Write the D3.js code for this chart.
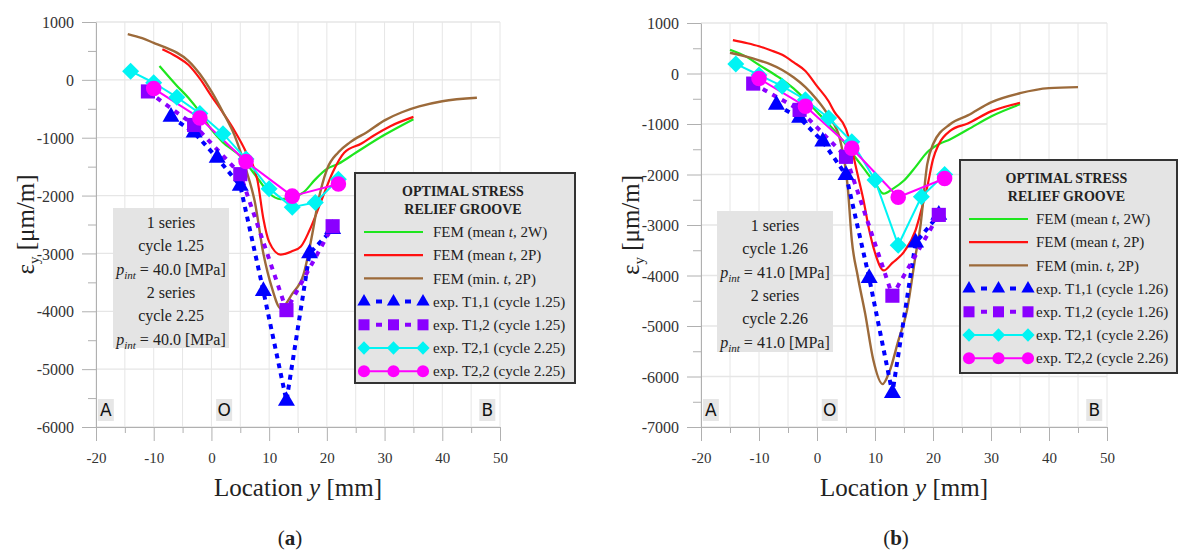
<!DOCTYPE html>
<html>
<head>
<meta charset="utf-8">
<script src="https://cdn.jsdelivr.net/npm/d3@7"></script>
<style>
  body { margin: 0; background: #fff; }
  svg { display: block; font-family: "Liberation Serif", "Times New Roman", serif; }
  .tick text { font-family: "Liberation Serif", "Times New Roman", serif; }
</style>
</head>
<body>
<svg id="chart" width="1179" height="550"></svg>
<script>
// ---------------- data ----------------
const xTicks = [-20, -10, 0, 10, 20, 30, 40, 50];
const xMinor = [-15, -5, 5, 15, 25, 35, 45];
const yTicksA = [1000, 0, -1000, -2000, -3000, -4000, -5000, -6000];
const yTicksB = [1000, 0, -1000, -2000, -3000, -4000, -5000, -6000, -7000];

const legendLabelsA = ['FEM (mean |t|, 2W)', 'FEM (mean |t|, 2P)', 'FEM (min. |t|, 2P)',
  'exp. T1,1 (cycle 1.25)', 'exp. T1,2 (cycle 1.25)', 'exp. T2,1 (cycle 2.25)', 'exp. T2,2 (cycle 2.25)'];
const legendLabelsB = ['FEM (mean |t|, 2W)', 'FEM (mean |t|, 2P)', 'FEM (min. |t|, 2P)',
  'exp. T1,1 (cycle 1.26)', 'exp. T1,2 (cycle 1.26)', 'exp. T2,1 (cycle 2.26)', 'exp. T2,2 (cycle 2.26)'];
const infoA = ['1 series', 'cycle 1.25', '40.0', '2 series', 'cycle 2.25', '40.0'];
const infoB = ['1 series', 'cycle 1.26', '41.0', '2 series', 'cycle 2.26', '41.0'];
const markLabels = [['A', -18.3], ['O', 2.2], ['B', 47.8]];

// (a) FEM curves  [y mm, strain µm/m]
const femMean2W_a = [[-9,240],[-6,-100],[-4,-310],[-2,-560],[0,-860],[2,-1080],[5,-1320],[8,-1700],[10,-1960],
  [12,-2060],[14,-2040],[16,-1940],[18,-1720],[20,-1540],[22,-1450],[25,-1260],[30,-950],[35,-680]];
const femMean2P_a = [[-8.5,530],[-6,400],[-4,260],[-2,20],[0,-280],[2,-570],[4,-880],[6,-1250],[8,-1750],[9,-2400],
  [10,-2800],[12,-3020],[14,-2960],[15.5,-2880],[17,-2600],[19,-2100],[21,-1600],[23,-1260],[26,-1100],[28,-970],[31,-800],[35,-640]];
const femMin2P_a = [[-14.5,790],[-12,720],[-10,640],[-8,560],[-6,470],[-4,330],[-2,100],[0,-200],[2,-560],[4,-960],
  [6,-1550],[7.5,-2100],[9,-3000],[10.5,-3600],[12,-3950],[14,-3700],[16,-3350],[17.5,-2650],[18.5,-2100],[20,-1550],
  [22,-1250],[24,-1080],[27,-900],[30,-700],[33,-560],[36,-460],[40,-370],[46,-310]];
// (a) measurements
const expT11_a = [[-7,-640],[-3,-910],[1,-1350],[5,-1830],[9,-3650],[13,-5550],[17,-3000],[21,-2580]];
const expT12_a = [[-11,-200],[-3,-780],[5,-1630],[13,-3980],[21,-2530]];
const expT21_a = [[-14,150],[-10,-50],[-6,-300],[-2,-580],[2,-930],[6,-1370],[10,-1880],[14,-2200],[18,-2120],[22,-1720]];
const expT22_a = [[-10,-150],[-2,-660],[6,-1410],[14,-2010],[22,-1800]];

// (b) FEM curves
const femMean2W_b = [[-15,470],[-12,320],[-10,170],[-8,30],[-6,-120],[-4,-300],[-2,-520],[0,-760],[2,-1000],[4,-1260],
  [6,-1570],[8,-1870],[10,-2170],[11.5,-2380],[13,-2290],[15,-2120],[17,-1850],[19,-1560],[21,-1400],[23,-1300],
  [26,-1110],[30,-850],[35,-610]];
const femMean2P_b = [[-14.5,660],[-12,600],[-10,540],[-8,460],[-6,370],[-4,220],[-2,50],[0,-250],[2,-550],[3,-760],
  [5,-1100],[6,-1500],[7,-2000],[8,-2500],[9,-3100],[10,-3550],[11.5,-3900],[13,-3750],[15,-3530],[17,-3100],[18,-2700],
  [19,-2250],[20,-1700],[21,-1400],[23,-1130],[26,-990],[30,-750],[35,-580]];
const femMin2P_b = [[-15,410],[-12,330],[-10,260],[-8,180],[-6,70],[-4,-80],[-2,-270],[0,-520],[2,-840],[4,-1320],
  [5.3,-2250],[6,-3300],[7,-4000],[8.3,-4750],[9.7,-5670],[11.3,-6150],[12.5,-5900],[14,-5300],[15.5,-4700],[17,-3600],
  [17.8,-3050],[19,-1800],[20,-1400],[23,-1000],[26,-830],[30,-570],[35,-390],[40,-290],[45,-270]];
// (b) measurements
const expT11_b = [[-7,-620],[-3,-880],[1,-1350],[5,-2010],[9,-4050],[13,-6330],[17,-3350],[21,-2800]];
const expT12_b = [[-11,-200],[-3,-720],[5,-1650],[13,-4400],[21,-2800]];
const expT21_b = [[-14,190],[-10,-30],[-6,-250],[-2,-520],[2,-880],[6,-1350],[10,-2110],[14,-3400],[18,-2440],[22,-2000]];
const expT22_b = [[-10,-100],[-2,-650],[6,-1480],[14,-2450],[22,-2080]];

// ---------------- styles ----------------
const styles = [
  { color: '#1ee61e', width: 2.2 },
  { color: '#ff1010', width: 2.2 },
  { color: '#9c6a3a', width: 2.4 },
  { color: '#0000ff', width: 4, dash: '5,5', marker: 'triangle' },
  { color: '#8a00ff', width: 4, dash: '5,6', marker: 'square' },
  { color: '#00f4f4', width: 2, marker: 'diamond' },
  { color: '#ff00ff', width: 2, marker: 'circle' }
];

const svg = d3.select('#chart');
const GRID = '#e6e6e6', AXIS = '#b0b0b0';

function markerPath(type) {
  if (type === 'triangle') return d3.symbol(d3.symbolTriangle, 125)();
  if (type === 'square') return d3.symbol(d3.symbolSquare, 200)();
  if (type === 'diamond') return 'M0,-8.5L8.5,0L0,8.5L-8.5,0Z';
  return d3.symbol(d3.symbolCircle, 190)();
}

// '|t|' marks an italic part
function richText(sel, str) {
  str.split('|').forEach((p, i) => {
    sel.append('tspan').style('font-style', i % 2 ? 'italic' : 'normal').text(p);
  });
}

function pint(sel, val) {
  sel.append('tspan').style('font-style', 'italic').text('p');
  sel.append('tspan').style('font-style', 'italic').attr('font-size', 11).attr('dy', 4).text('int');
  sel.append('tspan').attr('dy', -4).text(' = ' + val + ' [MPa]');
}

function drawPanel(cfg) {
  const g = svg.append('g');
  const x = d3.scaleLinear().domain([-20, 50]).range([cfg.left, cfg.right]);
  const y = d3.scaleLinear().domain([cfg.yTicks[cfg.yTicks.length - 1], 1000]).range([cfg.bottom, cfg.top]);
  const yMinor = cfg.yTicks.slice(1).map(v => v + 500);

  // grid
  g.append('g').selectAll('line').data(xTicks.concat(xMinor)).join('line')
    .attr('x1', d => x(d)).attr('x2', d => x(d))
    .attr('y1', cfg.top).attr('y2', cfg.bottom)
    .attr('stroke', GRID).attr('stroke-width', 1);
  g.append('g').selectAll('line').data(cfg.yTicks).join('line')
    .attr('x1', cfg.left).attr('x2', cfg.right)
    .attr('y1', d => y(d)).attr('y2', d => y(d))
    .attr('stroke', GRID).attr('stroke-width', 1.3);

  // axes
  const fmt = d => String(d);
  const xa = g.append('g').attr('transform', `translate(0,${cfg.bottom})`)
    .call(d3.axisBottom(x).tickValues(xTicks).tickSize(14).tickSizeOuter(0).tickFormat(fmt));
  g.append('g').attr('transform', `translate(0,${cfg.bottom})`)
    .call(d3.axisBottom(x).tickValues(xMinor).tickSize(6).tickFormat(''))
    .select('.domain').remove();
  const ya = g.append('g').attr('transform', `translate(${cfg.left},0)`)
    .call(d3.axisLeft(y).tickValues(cfg.yTicks).tickSize(14).tickSizeOuter(0).tickFormat(fmt));
  g.append('g').attr('transform', `translate(${cfg.left},0)`)
    .call(d3.axisLeft(y).tickValues(yMinor).tickSize(8).tickFormat(''))
    .select('.domain').remove();
  g.selectAll('.domain, .tick line').attr('stroke', AXIS);
  g.selectAll('.tick text').style('font-family', '"Liberation Serif", serif').attr('fill', '#333');
  xa.selectAll('text').attr('y', 31).attr('dy', '0.35em').attr('font-size', 15);
  ya.selectAll('text').attr('x', -22).attr('dy', '0.35em').attr('font-size', 16);

  // axis titles
  const cx = (cfg.left + cfg.right) / 2, cy = (cfg.top + cfg.bottom) / 2;
  const xt = g.append('text').attr('x', cx).attr('y', 496)
    .attr('text-anchor', 'middle').attr('font-size', 25).attr('fill', '#222');
  richText(xt, 'Location |y| [mm]');
  const yt = g.append('text').attr('transform', `translate(${cfg.left - 62},${cy}) rotate(-90)`)
    .attr('text-anchor', 'middle').attr('font-size', 25).attr('fill', '#222');
  yt.append('tspan').text('ε');
  yt.append('tspan').attr('font-size', 15).attr('dy', 5).text('y');
  yt.append('tspan').attr('dy', -5).text(' [μm/m]');

  const cap = g.append('text').attr('x', cx - 8).attr('y', 545)
    .attr('text-anchor', 'middle').attr('font-size', 21).attr('fill', '#222');
  cap.append('tspan').text('(');
  cap.append('tspan').attr('font-weight', 'bold').text(cfg.tag);
  cap.append('tspan').text(')');

  // A / O / B marks
  markLabels.forEach(([t, v]) => {
    const mg = g.append('g').attr('transform', `translate(${x(v)},${cfg.bottom - 17})`);
    mg.append('rect').attr('x', -8).attr('y', -11).attr('width', 16).attr('height', 22).attr('fill', '#e6e6e6');
    mg.append('text').attr('text-anchor', 'middle').attr('dy', '0.36em')
      .attr('font-family', 'DejaVu Sans, sans-serif').attr('font-size', 17).attr('fill', '#111').text(t);
  });

  // series
  const line = d3.line().x(d => x(d[0])).y(d => y(d[1]));
  cfg.series.forEach((s, i) => {
    const st = styles[i];
    g.append('path').datum(s)
      .attr('d', st.marker ? line.curve(d3.curveLinear)(s) : line.curve(d3.curveMonotoneX)(s))
      .attr('fill', 'none').attr('stroke', st.color).attr('stroke-width', st.width)
      .attr('stroke-dasharray', st.dash || null).attr('stroke-linejoin', 'round');
  });
  cfg.series.forEach((s, i) => {
    const st = styles[i];
    if (!st.marker) return;
    g.append('g').selectAll('path').data(s).join('path')
      .attr('transform', d => `translate(${x(d[0])},${y(d[1])})`)
      .attr('d', markerPath(st.marker)).attr('fill', st.color);
  });

  // info box
  const ib = cfg.info;
  g.append('rect').attr('x', ib.x).attr('y', ib.y).attr('width', ib.w).attr('height', ib.h).attr('fill', '#e4e4e4');
  cfg.infoLines.forEach((t, i) => {
    const tx = g.append('text').attr('x', ib.x + ib.w / 2).attr('y', ib.y + 20 + i * 23.3)
      .attr('text-anchor', 'middle').attr('font-size', 16).attr('fill', '#222');
    if (i === 2 || i === 5) pint(tx, t); else tx.text(t);
  });

  // legend
  const L = cfg.legend;
  const lg = g.append('g').attr('transform', `translate(${L.x},${L.y})`);
  lg.append('rect').attr('width', L.w).attr('height', L.h)
    .attr('fill', '#e4e4e4').attr('stroke', '#333').attr('stroke-width', 2);
  ['OPTIMAL STRESS', 'RELIEF GROOVE'].forEach((t, i) => {
    lg.append('text').attr('x', L.w / 2 - 2).attr('y', 23 + i * 17.5).attr('text-anchor', 'middle')
      .attr('font-size', 14).attr('font-weight', 'bold').attr('fill', '#222').text(t);
  });
  cfg.legendLabels.forEach((lab, i) => {
    const st = styles[i];
    const ry = 59 + i * 23.2;
    const row = lg.append('g').attr('transform', `translate(0,${ry})`);
    row.append('line').attr('x1', 9).attr('x2', 68).attr('y1', 0).attr('y2', 0)
      .attr('stroke', st.color).attr('stroke-width', st.marker ? (st.dash ? 4 : 2) : 2.2)
      .attr('stroke-dasharray', st.dash ? '0,12,6,23,6,12' : null);
    if (st.marker) {
      [9, 38.5, 68].forEach(px => row.append('path').attr('transform', `translate(${px},0) scale(0.78)`)
        .attr('d', markerPath(st.marker)).attr('fill', st.color));
    }
    const tx = row.append('text').attr('x', L.textX).attr('dy', '0.35em')
      .attr('font-size', 15).attr('fill', '#222');
    richText(tx, lab);
  });
}

drawPanel({
  tag: 'a', left: 96, right: 500, top: 22, bottom: 427, yTicks: yTicksA,
  series: [femMean2W_a, femMean2P_a, femMin2P_a, expT11_a, expT12_a, expT21_a, expT22_a],
  info: { x: 113, y: 208, w: 116, h: 140 }, infoLines: infoA,
  legend: { x: 355, y: 173, w: 220, h: 210, textX: 78 }, legendLabels: legendLabelsA
});
drawPanel({
  tag: 'b', left: 701, right: 1107, top: 23, bottom: 427, yTicks: yTicksB,
  series: [femMean2W_b, femMean2P_b, femMin2P_b, expT11_b, expT12_b, expT21_b, expT22_b],
  info: { x: 717, y: 211, w: 116, h: 141 }, infoLines: infoB,
  legend: { x: 960, y: 160, w: 217, h: 213, textX: 76 }, legendLabels: legendLabelsB
});
</script>
</body>
</html>
